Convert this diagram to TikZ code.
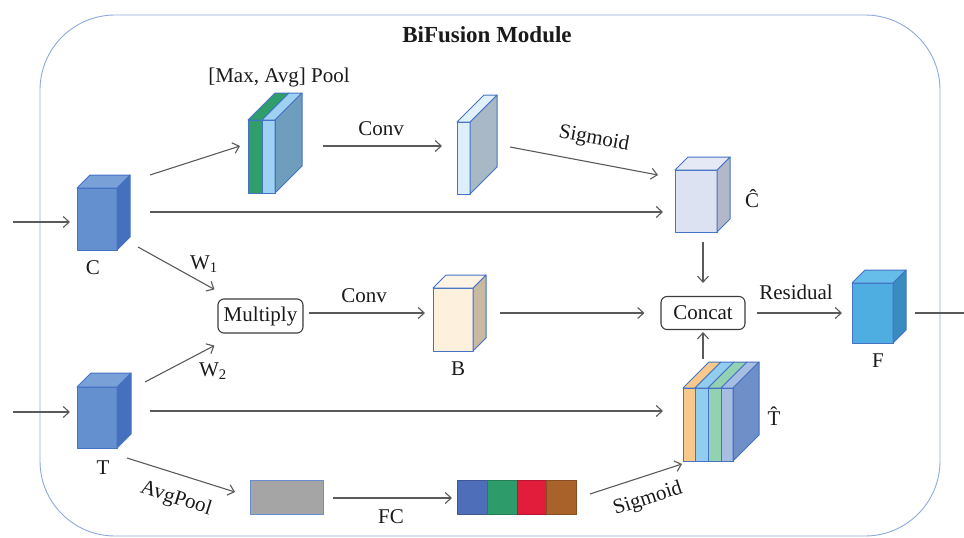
\documentclass[tikz,border=0pt]{standalone}
\usepackage{fontspec}
\setmainfont{Liberation Serif}
\usetikzlibrary{arrows.meta,calc}

\definecolor{edgeblue}{HTML}{4472C4}
\definecolor{framecol}{HTML}{8EA9DB}
\definecolor{arrowcol}{HTML}{5A5A5A}
\definecolor{txtcol}{HTML}{1A1A1A}
% feature cubes
\definecolor{inFront}{HTML}{6590D0}
\definecolor{inSide}{HTML}{4470BE}
\definecolor{inTop}{HTML}{7AA0D8}
\definecolor{poolGreen}{HTML}{2F9E6B}
\definecolor{poolLight}{HTML}{9FD2F2}
\definecolor{poolSide}{HTML}{6E9DBE}
\definecolor{convFront}{HTML}{DDEFFB}
\definecolor{convSide}{HTML}{A8B8C4}
\definecolor{convTop}{HTML}{E2F1FB}
\definecolor{chFront}{HTML}{DCE2F2}
\definecolor{chSide}{HTML}{B3B8C8}
\definecolor{chTop}{HTML}{E4E9F5}
\definecolor{bFront}{HTML}{FDF1DE}
\definecolor{bSide}{HTML}{C8B9A2}
\definecolor{bTop}{HTML}{FDF4E6}
\definecolor{fFront}{HTML}{4EAEE2}
\definecolor{fSide}{HTML}{3A8CC0}
\definecolor{fTop}{HTML}{66BDE9}
\definecolor{tOrange}{HTML}{F8C98A}
\definecolor{tBlue}{HTML}{92CDF0}
\definecolor{tGreen}{HTML}{92D2B2}
\definecolor{tSteel}{HTML}{A7BDE2}
\definecolor{tSide}{HTML}{6F8FC8}
\definecolor{avgGray}{HTML}{A5A5A5}
\definecolor{fcBlue}{HTML}{4F6EBA}
\definecolor{fcGreen}{HTML}{2E9C6A}
\definecolor{fcRed}{HTML}{E11D3B}
\definecolor{fcBrown}{HTML}{A8622A}

% a cuboid: front face is a named node, side and top faces drawn from its anchors
% #1 name, #2 x, #3 y (front top-left), #4 width, #5 height, #6 depth,
% #7 front colour, #8 side colour, #9 top colour
\newcommand\blockcube[9]{%
  \node[face, minimum width=#4pt, minimum height=#5pt, fill=#7, anchor=north west] (#1) at (#2,#3) {};
  \draw[face, fill=#8] (#1.north east) -- ++(#6,-#6) -- ++(0,#5) -- (#1.south east) -- cycle;
  \draw[face, fill=#9] (#1.north west) -- ++(#6,-#6) -- ++(#4,0) -- (#1.north east) -- cycle;
}

\begin{document}
\begin{tikzpicture}[x=1pt,y=-1pt,
  face/.style={draw=edgeblue, line width=1pt, line join=round, inner sep=0pt, outer sep=0pt},
  arr/.style={draw=arrowcol, line width=1.1pt, -{Straight Barb[length=6pt,width=11pt,line width=1.1pt]}},
  plain/.style={draw=arrowcol, line width=1.1pt},
  lbl/.style={text=txtcol, font=\fontsize{21}{25}\selectfont, inner sep=1pt},
  opbox/.style={draw=txtcol!85, line width=1.1pt, rounded corners=6pt, text=txtcol,
                font=\fontsize{21}{25}\selectfont, inner sep=0pt},
  seg/.style={line width=0.6pt}]

\useasboundingbox (0,0) rectangle (964,538);

% module frame
\draw[framecol, line width=0.9pt, rounded corners=75pt] (40,15) rectangle (940,536);
\node[text=txtcol, font=\fontsize{23}{27}\selectfont\bfseries] (title) at (487,35) {BiFusion Module};

% inputs C and T
\blockcube{C}{77}{188}{40}{62}{13}{inFront}{inSide}{inTop}
\blockcube{T}{77}{387}{40}{61}{14}{inFront}{inSide}{inTop}
\node[lbl] (lblC) at (93,268) {C};
\node[lbl] (lblT) at (103,468) {T};

% [Max, Avg] pooled block: two slabs
\foreach \xa/\xb/\col in {248/262/poolGreen, 262/275/poolLight}{
  \draw[face, fill=\col] (\xa,120) rectangle (\xb,193);
  \draw[face, fill=\col] (\xa,120) -- ++(27,-27) -- (\xb+27,93) -- (\xb,120) -- cycle;
}
\draw[face, fill=poolSide] (275,120) -- (302,93) -- (302,166) -- (275,193) -- cycle;
\node[face, minimum width=27pt, minimum height=73pt] (pool) at (261.5,156.5) {};
\node[lbl] (lblpool) at (279,77) {[Max, Avg] Pool};

% conv output and C-hat
\blockcube{cv}{457}{122}{13}{72}{27}{convFront}{convSide}{convTop}
\blockcube{Chat}{675}{170}{42}{62}{13}{chFront}{chSide}{chTop}
\node[lbl] (lblChat) at (752,199) {\^{C}};

% B and F
\blockcube{B}{433}{288}{40}{63}{13}{bFront}{bSide}{bTop}
\node[lbl] (lblB) at (458,369) {B};
\blockcube{F}{852}{283}{41}{60}{13}{fFront}{fSide}{fTop}
\node[lbl] (lblF) at (878,361) {F};

% T-hat: four stacked slabs
\foreach \xa/\xb/\col in {683/695/tOrange, 695/708/tBlue, 708/721/tGreen, 721/733/tSteel}{
  \draw[face, fill=\col] (\xa,388) rectangle (\xb,461);
  \draw[face, fill=\col] (\xa,388) -- ++(26,-26) -- (\xb+26,362) -- (\xb,388) -- cycle;
}
\draw[face, fill=tSide] (733,388) -- (759,362) -- (759,435) -- (733,461) -- cycle;
\node[face, minimum width=50pt, minimum height=73pt] (That) at (708,424.5) {};
\node[lbl] (lblThat) at (774,416) {\^{T}};

% operation boxes
\node[opbox, minimum width=85pt, minimum height=34pt] (mul) at (260.5,316) {Multiply};
\node[opbox, minimum width=84pt, minimum height=33pt] (cat) at (703,313) {Concat};

% average pooled vector and FC output
\node[face, draw=edgeblue!80, fill=avgGray, minimum width=73pt, minimum height=34pt] (avg) at (286.5,497) {};
\foreach \xa/\xb/\col in {457/487/fcBlue, 487/517/fcGreen, 517/546/fcRed, 546/576/fcBrown}{
  \draw[seg, draw=\col!80!black, fill=\col] (\xa,480) rectangle (\xb,514);
}
\node[inner sep=0pt, outer sep=0pt, minimum width=119pt, minimum height=34pt] (fc) at (516.5,497) {};

% external connectors
\coordinate (inC) at (13,222);
\coordinate (inT) at (13,412);
\coordinate (outF) at (964,313);
\draw[arr] (inC) -- ($(C.west)+(-7,3)$);
\draw[arr] (inT) -- ($(T.west)+(-7,-5.5)$);
\draw[plain] ($(F.east)+(22,0)$) -- (outF);

% C branch
\draw[arr] ($(C.east)+(33,-44)$) -- ($(pool.west)+(-8,-10.5)$);
\draw[arr] ($(pool.east)+(48,-10.5)$) -- ($(cv.west)+(-15,-12)$);
\node[lbl] (lblconv1) at (381,129) {Conv};
\draw[arr] ($(cv.east)+(40,-11)$) -- ($(Chat.west)+(-17,-26)$);
\node[lbl, rotate=-10.7] (lblsig1) at (594,139) {Sigmoid};
\draw[arr] ($(C.east)+(33,-7)$) -- ($(Chat.west)+(-12,11)$);
\draw[arr] ($(cat.north)+(0,-54)$) -- ($(cat.north)+(0,-13)$);

% cross branch
\draw[arr] ($(C.south east)+(21,-3)$) -- ($(mul.north west)+(-3,-9)$);
\node[lbl] (lblw1) at (204,264) {W\textsubscript{1}};
\draw[arr] ($(T.north east)+(28,-5)$) -- ($(mul.south west)+(-3,12)$);
\node[lbl] (lblw2) at (213,371) {W\textsubscript{2}};
\draw[arr] ($(mul.east)+(5,-3)$) -- ($(B.west)+(-8,-6.5)$);
\node[lbl] (lblconv2) at (364,296) {Conv};
\draw[arr] ($(B.east)+(27,-6.5)$) -- ($(cat.west)+(-16,0)$);
\draw[arr] ($(cat.east)+(11,0)$) -- ($(F.west)+(-10,0)$);
\node[lbl] (lblres) at (796,292) {Residual};

% T branch
\draw[arr] ($(T.east)+(33,-6.5)$) -- ($(That.west)+(-20,-13.5)$);
\draw[arr] ($(cat.south)+(0,29)$) -- ($(cat.south)+(0,2)$);
\draw[arr] ($(T.south)+(30,10)$) -- ($(avg.west)+(-15,-5)$);
\node[lbl, rotate=-17.5] (lblavg) at (176,499) {AvgPool};
\draw[arr] ($(avg.east)+(10,1)$) -- ($(fc.west)+(-5,1)$);
\node[lbl] (lblfc) at (391,517) {FC};
\draw[arr] ($(fc.east)+(14,-3)$) -- ($(That.south west)+(-1,3)$);
\node[lbl, rotate=18] (lblsig2) at (648,499) {Sigmoid};

\end{tikzpicture}
\end{document}
